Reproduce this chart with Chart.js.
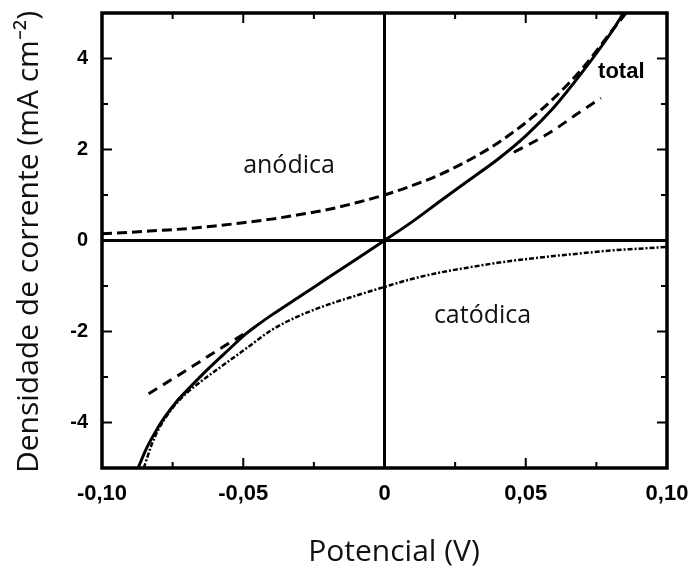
<!DOCTYPE html>
<html>
<head>
<meta charset="utf-8">
<script src="https://cdn.jsdelivr.net/npm/chart.js@4.4.1/dist/chart.umd.min.js"></script>
<style>
  html, body { margin: 0; padding: 0; background: #fff; }
  #wrap { width: 696px; height: 568px; }
</style>
</head>
<body>
<div id="wrap"><canvas id="curvas" width="696" height="568"></canvas></div>
<script>
// Curva total (linha cheia)
const potTotal = [-0.0872, -0.0845, -0.0815, -0.078, -0.074, -0.070, -0.065, -0.060, -0.055, -0.050,
                  -0.045, -0.040, -0.030, -0.020, -0.010, 0, 0.010, 0.020, 0.030, 0.040,
                  0.050, 0.060, 0.070, 0.080, 0.0846];
const corTotal = [-5.0, -4.6, -4.25, -3.9, -3.57, -3.3, -2.98, -2.68, -2.39, -2.1,
                  -1.86, -1.64, -1.23, -0.82, -0.41, 0, 0.42, 0.88, 1.33, 1.78,
                  2.3, 2.93, 3.7, 4.55, 5.0];

// Componente anódica (tracejada)
const potAnodica = [-0.100, -0.090, -0.080, -0.070, -0.060, -0.050, -0.040, -0.030, -0.020, -0.010, 0,
                    0.010, 0.020, 0.030, 0.040, 0.050, 0.060, 0.070, 0.080, 0.0855];
const corAnodica = [0.15, 0.18, 0.22, 0.26, 0.32, 0.39, 0.47, 0.57, 0.68, 0.83, 1.0,
                    1.21, 1.46, 1.77, 2.14, 2.59, 3.13, 3.78, 4.57, 5.0];

// Componente catódica (traço-ponto)
const potCatodica = [-0.0852, -0.0825, -0.080, -0.075, -0.070, -0.065, -0.060, -0.050, -0.040, -0.030,
                     -0.020, -0.010, 0, 0.010, 0.020, 0.030, 0.040, 0.050, 0.060, 0.070, 0.080, 0.090, 0.100];
const corCatodica = [-5.0, -4.5, -4.15, -3.68, -3.35, -3.1, -2.87, -2.42, -1.97, -1.65,
                     -1.41, -1.21, -1.02, -0.84, -0.70, -0.59, -0.49, -0.41, -0.34, -0.28, -0.22, -0.18, -0.14];

// Retas tracejadas nos extremos
const potRetaEsq = [-0.0835, -0.0711, -0.0593, -0.0487];
const corRetaEsq = [-3.37, -2.89, -2.42, -2.01];
const potRetaDir = [0.0458, 0.058, 0.0684, 0.0766];
const corRetaDir = [1.94, 2.35, 2.79, 3.13];

// Marcas dos eixos
const xTicks = [-0.10, -0.05, 0, 0.05, 0.10];
const xTickLabels = ['-0,10', '-0,05', '0', '0,05', '0,10'];
const xMinor = [-0.075, -0.025, 0.025, 0.075];
const yTicks = [-4, -2, 0, 2, 4];
const yTickLabels = ['-4', '-2', '0', '2', '4'];
const yMinor = [-5, -3, -1, 1, 3, 5];

const tituloX = 'Potencial (V)';
const tituloY = 'Densidade de corrente (mA cm⁻²)';

const pares = (xs, ys) => xs.map((v, i) => ({ x: v, y: ys[i] }));

const linha = (pts, extra) => Object.assign({
    data: pts,
    borderColor: '#000',
    borderWidth: 3,
    pointRadius: 0,
    fill: false,
    cubicInterpolationMode: 'monotone',
    borderCapStyle: 'butt',
}, extra);

// moldura, marcas internas, títulos e rótulos das curvas
const moldura = {
    id: 'moldura',
    afterDatasetsDraw(chart) {
        const { ctx, chartArea: a, scales: { x, y } } = chart;
        ctx.save();
        ctx.strokeStyle = '#000';
        ctx.lineWidth = 3.5;
        ctx.strokeRect(a.left, a.top, a.right - a.left, a.bottom - a.top);

        ctx.lineWidth = 2;
        ctx.beginPath();
        const marcaX = (vals, len) => vals.forEach(v => {
            const px = x.getPixelForValue(v);
            ctx.moveTo(px, a.bottom); ctx.lineTo(px, a.bottom - len);
            ctx.moveTo(px, a.top); ctx.lineTo(px, a.top + len);
        });
        const marcaY = (vals, len) => vals.forEach(v => {
            const py = y.getPixelForValue(v);
            ctx.moveTo(a.left, py); ctx.lineTo(a.left + len, py);
            ctx.moveTo(a.right, py); ctx.lineTo(a.right - len, py);
        });
        marcaX(xTicks, 10);
        marcaX(xMinor, 6);
        marcaY(yTicks, 10);
        marcaY(yMinor, 6);
        ctx.stroke();

        ctx.fillStyle = '#111';
        ctx.textBaseline = 'alphabetic';
        ctx.textAlign = 'center';
        ctx.font = '25px "Open Sans"';
        ctx.fillText('anódica', x.getPixelForValue(-0.0338), y.getPixelForValue(1.48));
        ctx.fillText('catódica', x.getPixelForValue(0.0347), y.getPixelForValue(-1.81));

        ctx.font = '30px "Open Sans"';
        ctx.fillText(tituloX, 394, 561);
        ctx.translate(38, 242);
        ctx.rotate(-Math.PI / 2);
        ctx.fillText(tituloY, 0, 0);
        ctx.setTransform(1, 0, 0, 1, 0, 0);

        ctx.textAlign = 'left';
        ctx.fillStyle = '#000';
        ctx.font = 'bold 22px "Liberation Sans"';
        ctx.fillText('total', x.getPixelForValue(0.0756), y.getPixelForValue(3.57));
        ctx.restore();
    }
};

new Chart(document.getElementById('curvas'), {
    type: 'line',
    data: {
        datasets: [
            linha(pares(potTotal, corTotal), {}),
            linha(pares(potAnodica, corAnodica), { borderDash: [10, 5] }),
            linha(pares(potCatodica, corCatodica), { borderDash: [5, 2, 2, 2], borderWidth: 2.5 }),
            linha(pares(potRetaEsq, corRetaEsq), { borderDash: [10, 7] }),
            linha(pares(potRetaDir, corRetaDir), { borderDash: [10, 7] }),
        ]
    },
    options: {
        responsive: false,
        animation: false,
        layout: { padding: { top: 13, right: 29, left: 0, bottom: 0 } },
        plugins: {
            legend: { display: false },
            tooltip: { enabled: false },
        },
        scales: {
            x: {
                type: 'linear',
                min: -0.1,
                max: 0.1,
                afterBuildTicks: s => { s.ticks = xTicks.map(v => ({ value: v })); },
                afterFit: s => {
                    s.height = 100;
                    s.paddingLeft = 0;
                    s.paddingRight = 0;
                },
                ticks: {
                    callback: (v, i) => xTickLabels[i],
                    autoSkip: false,
                    maxRotation: 0,
                    color: '#000',
                    padding: 13,
                    font: { family: 'Liberation Sans', weight: 'bold', size: 22 },
                },
                grid: {
                    color: c => (c.tick && c.tick.value === 0) ? '#000' : 'rgba(0,0,0,0)',
                    lineWidth: 3,
                    drawTicks: false,
                },
                border: { display: false },
            },
            y: {
                type: 'linear',
                min: -5,
                max: 5,
                afterBuildTicks: s => { s.ticks = yTicks.map(v => ({ value: v })); },
                afterFit: s => {
                    s.width = 102;
                    s.paddingTop = 0;
                    s.paddingBottom = 0;
                },
                ticks: {
                    callback: (v, i) => yTickLabels[i],
                    autoSkip: false,
                    color: '#000',
                    padding: 14,
                    font: { family: 'Liberation Sans', weight: 'bold', size: 20 },
                },
                grid: {
                    color: c => (c.tick && c.tick.value === 0) ? '#000' : 'rgba(0,0,0,0)',
                    lineWidth: 3,
                    drawTicks: false,
                },
                border: { display: false },
            },
        },
    },
    plugins: [moldura],
});
</script>
</body>
</html>
